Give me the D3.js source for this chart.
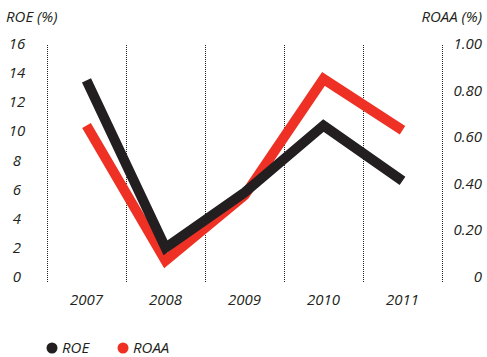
<!DOCTYPE html>
<html>
<head>
<meta charset="utf-8">
<script src="https://cdn.jsdelivr.net/npm/d3@7"></script>
<style>
  body { margin: 0; background: #fff; }
  text { font-family: "Open Sans", "Noto Sans", sans-serif; font-style: italic; fill: #231f20; }
</style>
</head>
<body>
<svg id="chart" width="487" height="357"></svg>
<script>
const years = ['2007', '2008', '2009', '2010', '2011'];
const roe = [13.5, 2.0, 5.8, 10.4, 6.6];
const roaa = [0.65, 0.07, 0.35, 0.85, 0.63];
const roeTicks = [0, 2, 4, 6, 8, 10, 12, 14, 16];
const roaaTicks = [0, 0.2, 0.4, 0.6, 0.8, 1.0];

const svg = d3.select('#chart');
const ink = '#231f20';
const red = '#ee3124';
const fs = 15;

const x = d3.scaleBand().domain(years).range([47, 442]);
const yL = d3.scaleLinear().domain([0, 16]).range([277, 44]);
const yR = d3.scaleLinear().domain([0, 1]).range([277, 44]);

// dotted separators at band edges
const edges = years.map(d => x(d)).concat([x.range()[1]]);
svg.selectAll('line.sep')
    .data(edges)
    .enter()
    .append('line')
    .attr('class', 'sep')
    .attr('x1', d => d + 0.5).attr('x2', d => d + 0.5)
    .attr('y1', 45).attr('y2', 282)
    .attr('stroke', ink)
    .attr('stroke-width', 1)
    .attr('stroke-dasharray', '1,1');

// left axis labels
svg.selectAll('text.yl')
    .data(roeTicks)
    .enter()
    .append('text')
    .attr('class', 'yl')
    .attr('x', 17)
    .attr('y', d => yL(d) + 5)
    .attr('text-anchor', 'middle')
    .attr('font-size', fs)
    .text(d => d);

// right axis labels
svg.selectAll('text.yr')
    .data(roaaTicks)
    .enter()
    .append('text')
    .attr('class', 'yr')
    .attr('x', 482)
    .attr('y', d => yR(d) + 5)
    .attr('text-anchor', 'end')
    .attr('font-size', fs)
    .text(d => d === 0 ? '0' : d3.format('.2f')(d));

// year labels
svg.selectAll('text.yr-lab')
    .data(years)
    .enter()
    .append('text')
    .attr('class', 'yr-lab')
    .attr('x', d => x(d) + x.bandwidth() / 2)
    .attr('y', 305)
    .attr('text-anchor', 'middle')
    .attr('font-size', fs)
    .text(d => d);

svg.append('text').attr('x', 6).attr('y', 22).attr('font-size', fs).text('ROE (%)');
svg.append('text').attr('x', 482).attr('y', 22).attr('text-anchor', 'end').attr('font-size', fs).text('ROAA (%)');

const cx = d => x(d) + x.bandwidth() / 2;

const lineL = d3.line().x((d, i) => cx(years[i])).y(d => yL(d));
const lineR = d3.line().x((d, i) => cx(years[i])).y(d => yR(d));

svg.append('path')
    .attr('d', lineR(roaa))
    .attr('fill', 'none')
    .attr('stroke', red)
    .attr('stroke-width', 10)
    .attr('stroke-linejoin', 'miter');

svg.append('path')
    .attr('d', lineL(roe))
    .attr('fill', 'none')
    .attr('stroke', ink)
    .attr('stroke-width', 10)
    .attr('stroke-linejoin', 'miter');

// legend
const legend = [{ name: 'ROE', color: ink, x: 52 }, { name: 'ROAA', color: red, x: 123 }];
const lg = svg.selectAll('g.legend')
    .data(legend)
    .enter()
    .append('g')
    .attr('class', 'legend')
    .attr('transform', d => `translate(${d.x},348)`);
lg.append('circle').attr('r', 5.5).attr('fill', d => d.color);
lg.append('text').attr('x', 10).attr('y', 5).attr('font-size', fs).text(d => d.name);
</script>
</body>
</html>
